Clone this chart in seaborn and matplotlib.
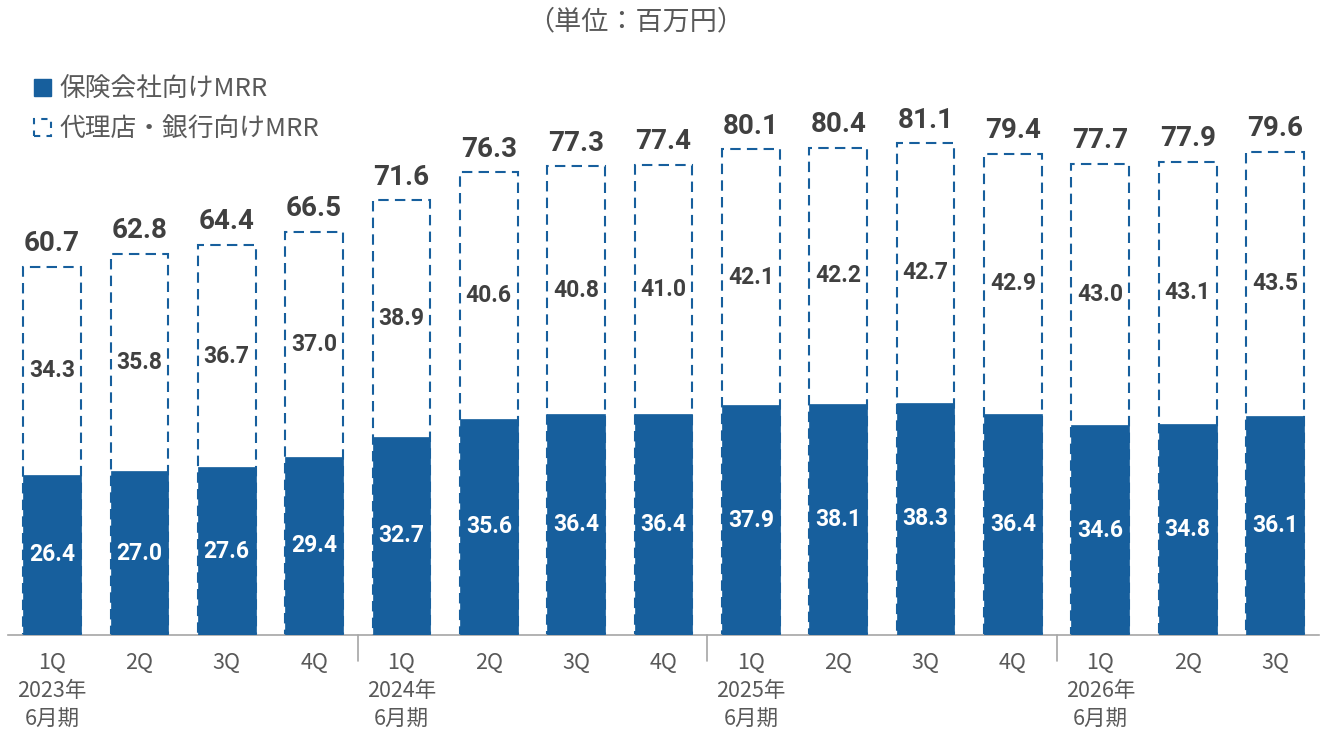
import matplotlib
matplotlib.use("Agg")
import matplotlib.pyplot as plt
from matplotlib.patches import Patch
import seaborn as sns
import pandas as pd

quarters = ["1Q", "2Q", "3Q", "4Q", "1Q", "2Q", "3Q", "4Q",
            "1Q", "2Q", "3Q", "4Q", "1Q", "2Q", "3Q"]
tick_labels = ["1Q\n2023年\n6月期", "2Q", "3Q", "4Q",
               "1Q\n2024年\n6月期", "2Q", "3Q", "4Q",
               "1Q\n2025年\n6月期", "2Q", "3Q", "4Q",
               "1Q\n2026年\n6月期", "2Q", "3Q"]
insurer_mrr = [26.4, 27.0, 27.6, 29.4, 32.7, 35.6, 36.4, 36.4,
               37.9, 38.1, 38.3, 36.4, 34.6, 34.8, 36.1]
agency_mrr = [34.3, 35.8, 36.7, 37.0, 38.9, 40.6, 40.8, 41.0,
              42.1, 42.2, 42.7, 42.9, 43.0, 43.1, 43.5]
totals = [60.7, 62.8, 64.4, 66.5, 71.6, 76.3, 77.3, 77.4,
          80.1, 80.4, 81.1, 79.4, 77.7, 77.9, 79.6]

sns.set_theme(style="white")
plt.rcParams['font.family'] = ['Noto Sans CJK JP', 'DejaVu Sans']

BLUE = "#175F9D"
DARK = "#404040"
GRAY = "#595959"
NUMFONT = ['Roboto', 'DejaVu Sans']

df = pd.DataFrame({
    "pos": [str(i) for i in range(len(quarters))],
    "insurer": insurer_mrr,
    "stack": [a + b for a, b in zip(insurer_mrr, agency_mrr)],
})

fig = plt.figure(figsize=(13.32, 7.35), dpi=100)
ax = fig.add_axes([0.00623, 0.136, 0.9838, 0.7846])

sns.barplot(data=df, x="pos", y="stack", ax=ax, color="white",
            edgecolor=BLUE, linestyle=(0, (5, 3)), linewidth=1.5,
            width=0.66, saturation=1, zorder=2)
sns.barplot(data=df, x="pos", y="insurer", ax=ax, color=BLUE,
            edgecolor=BLUE, linewidth=0.5, width=0.66, saturation=1, zorder=3)

ax.set_xlim(-0.5, len(quarters) - 0.5)
ax.set_ylim(0, 95)
ax.set_xlabel("")
ax.set_ylabel("")
ax.set_yticks([])
ax.set_xticks(range(len(quarters)))
ax.set_xticklabels(tick_labels, fontsize=15.5, color=GRAY, linespacing=1.38, va="top")
ax.tick_params(axis="x", length=0, pad=12)
for s in ["top", "right", "left"]:
    ax.spines[s].set_visible(False)
ax.spines["bottom"].set_color("#A6A6A6")
ax.spines["bottom"].set_linewidth(1.2)

for i in range(len(quarters)):
    b = insurer_mrr[i]
    a = agency_mrr[i]
    ax.text(i, b / 2, f"{b:.1f}", ha="center", va="center", color="white",
            fontsize=16.5, fontweight="bold", family=NUMFONT, zorder=5)
    ax.text(i, b + a / 2, f"{a:.1f}", ha="center", va="center", color=DARK,
            fontsize=16.5, fontweight="bold", family=NUMFONT, zorder=5,
            bbox=dict(facecolor="white", edgecolor="none", pad=1))
    ax.annotate(f"{totals[i]:.1f}", (i, b + a), xytext=(0, 7),
                textcoords="offset points", ha="center", va="bottom",
                color=DARK, fontsize=20, fontweight="bold", family=NUMFONT, zorder=5)

# group separators below axis
for xs in [3.5, 7.5, 11.5]:
    ax.plot([xs, xs], [0, -0.045], transform=ax.get_xaxis_transform(),
            color="#A6A6A6", linewidth=1.2, clip_on=False)

handles = [Patch(facecolor=BLUE, edgecolor=BLUE),
           Patch(facecolor="white", edgecolor=BLUE, linestyle=(0, (3, 3)), linewidth=1.5)]
fig.legend(handles, ["保険会社向けMRR", "代理店・銀行向けMRR"],
           loc="upper left", bbox_to_anchor=(0.018, 0.91), frameon=False,
           fontsize=18.5, labelcolor=GRAY, handlelength=0.65, handleheight=0.65,
           handletextpad=0.35, labelspacing=0.55, borderaxespad=0)

fig.text(0.477, 0.988, "（単位：百万円）", ha="center", va="top", fontsize=19.5, color=GRAY)

fig.savefig("out.png", dpi=100)
